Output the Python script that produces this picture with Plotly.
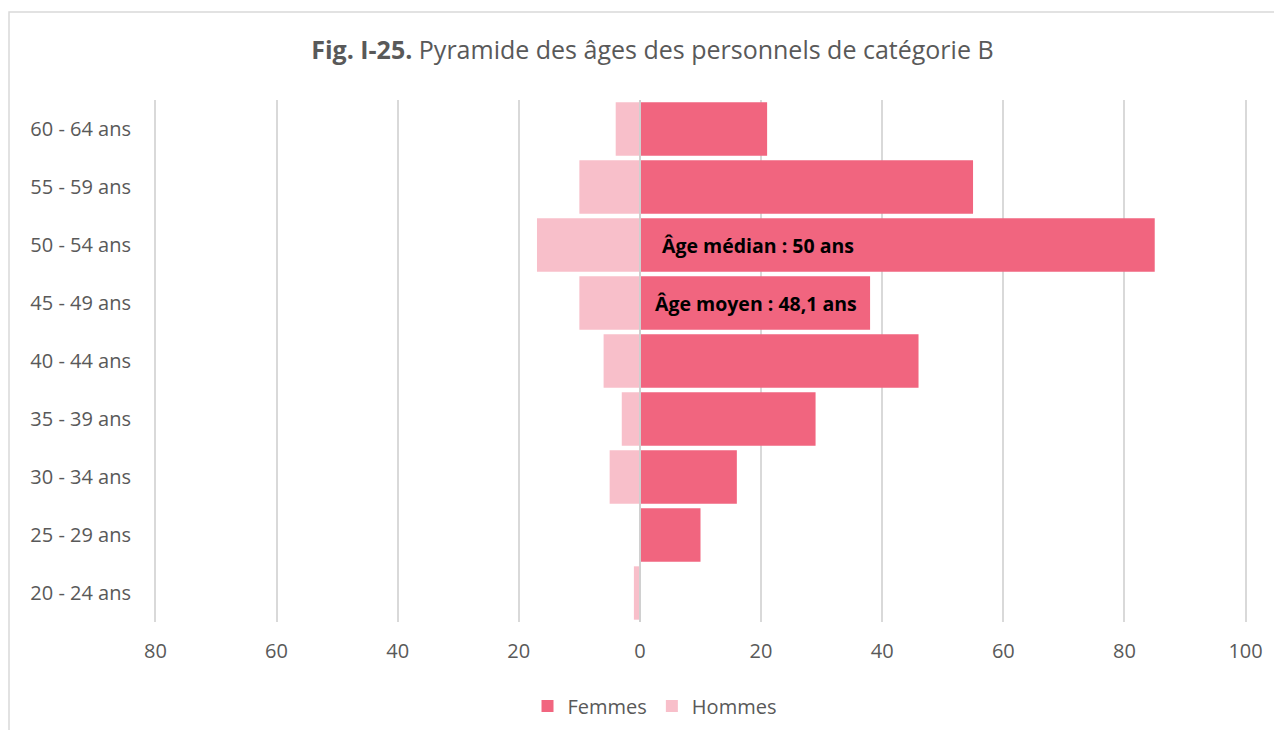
import plotly.graph_objects as go

categories = ["20 - 24 ans", "25 - 29 ans", "30 - 34 ans", "35 - 39 ans", "40 - 44 ans",
              "45 - 49 ans", "50 - 54 ans", "55 - 59 ans", "60 - 64 ans"]
femmes = [0, 10, 16, 29, 46, 38, 85, 55, 21]
hommes = [1, 0, 5, 3, 6, 10, 17, 10, 4]
tick_vals = [-80, -60, -40, -20, 0, 20, 40, 60, 80, 100]
tick_text = ["80", "60", "40", "20", "0", "20", "40", "60", "80", "100"]

FONT = "Open Sans"
GREY = "#595959"

fig = go.Figure()
fig.add_trace(go.Bar(y=categories, x=femmes, orientation="h", name="Femmes",
                     marker=dict(color="#F1657F", line=dict(width=0))))
fig.add_trace(go.Bar(y=categories, x=[-v for v in hommes], orientation="h", name="Hommes",
                     marker=dict(color="#F8BFCA", line=dict(width=0))))

fig.update_layout(
    width=1266, height=722,
    barmode="relative", bargap=0.08,
    paper_bgcolor="white", plot_bgcolor="white",
    margin=dict(l=145, r=26, t=92, b=108, autoexpand=False),
    font=dict(family=FONT, color=GREY, size=20),
    title=dict(text="<b>Fig. I-25.</b> Pyramide des âges des personnels de catégorie B",
               x=0.509, xanchor="center", xref="container", y=0.9418, yanchor="middle",
               font=dict(family=FONT, size=25, color=GREY)),
    xaxis=dict(range=[-80.4, 100.4], tickvals=tick_vals, ticktext=tick_text,
               showgrid=True, gridcolor="#D9D9D9", gridwidth=1.5,
               zeroline=True, zerolinecolor="#D0D0D0", zerolinewidth=2,
               ticks="", tickfont=dict(size=20, color=GREY), ticklabelstandoff=15),
    yaxis=dict(showgrid=False, ticks="", tickfont=dict(size=20, color=GREY),
               ticklabelstandoff=21, categoryorder="array", categoryarray=categories),
    legend=dict(orientation="h", x=0.458, xanchor="center", y=-0.161, yanchor="middle",
                font=dict(size=20, color=GREY), traceorder="normal",
                itemwidth=30),
    showlegend=True,
)
try:
    fig.update_xaxes(zerolinelayer="above traces")
except Exception:
    pass

fig.add_annotation(x=3.3, y="50 - 54 ans", text="<b>Âge médian : 50 ans</b>", showarrow=False,
                   xanchor="left", font=dict(family=FONT, size=19.5, color="black"))
fig.add_annotation(x=2.1, y="45 - 49 ans", text="<b>Âge moyen : 48,1 ans</b>", showarrow=False,
                   xanchor="left", font=dict(family=FONT, size=19.5, color="black"))

fig.add_shape(type="rect", xref="paper", yref="paper",
              x0=-0.1315, x1=1.2, y0=-0.5, y1=1.1686,
              line=dict(color="#D9D9D9", width=1.5), fillcolor="rgba(0,0,0,0)", layer="below")

fig.write_html("out.html")
